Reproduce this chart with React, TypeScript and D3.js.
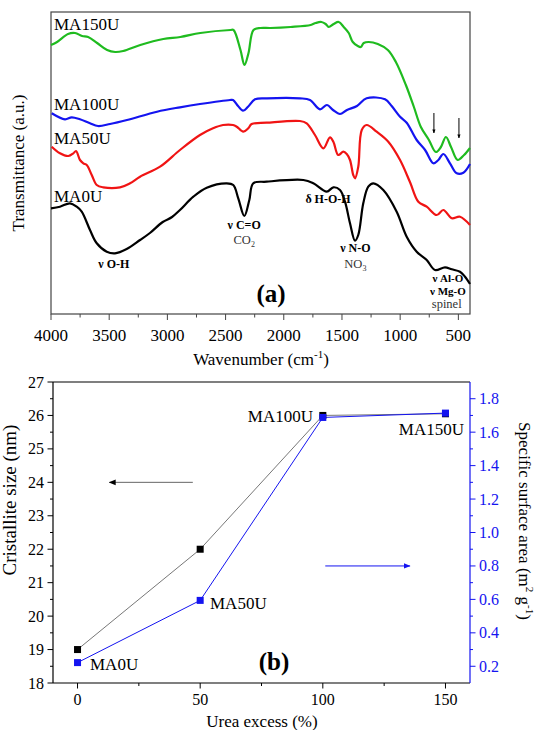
import React from "react";
import * as d3 from "d3";

// ---------- Panel (a): FTIR spectra (wavenumber cm-1, transmittance a.u.) ----------
const ma150uWn = [4000, 3948, 3854, 3793, 3733, 3681, 3604, 3518, 3449, 3380, 3233, 3035, 2889, 2717, 2458, 2432, 2372, 2338, 2303, 2260, 2200, 2114, 1941, 1769, 1726, 1677, 1640, 1614, 1571, 1528, 1485, 1442, 1407, 1364, 1339, 1313, 1270, 1192, 1106, 1037, 951, 882, 822, 753, 693, 650, 607, 563, 506, 451, 400];
const ma150uT = [269, 272, 280, 281, 278, 277, 271, 264, 262, 263, 269, 275, 277, 281, 284, 284, 264, 249, 261, 284, 286, 286, 287, 289, 291, 292, 290, 287, 290, 292, 287, 281, 272, 268, 267, 271, 272, 270, 264, 252, 229, 207, 187, 174, 162, 167, 177, 167, 154, 159, 166];

const ma100uWn = [3994, 3880, 3822, 3751, 3665, 3596, 3493, 3347, 3089, 2892, 2720, 2462, 2436, 2393, 2350, 2307, 2247, 2144, 1861, 1775, 1689, 1629, 1577, 1517, 1457, 1371, 1288, 1130, 1073, 1001, 944, 858, 786, 715, 672, 629, 572, 514, 457, 400];
const ma100uT = [200.7, 194.7, 196.7, 194.7, 190.7, 188, 190, 194, 202.3, 206.7, 210, 214, 214, 208, 203.3, 207.3, 214.7, 215.7, 215.7, 214, 204.7, 209, 204, 200, 204, 208, 215.7, 214.7, 208, 197.3, 191.3, 174, 164, 150.7, 154, 160, 150.7, 140.7, 141.3, 150];

const ma50uWn = [3994, 3923, 3851, 3808, 3785, 3751, 3722, 3693, 3650, 3607, 3551, 3407, 3321, 3235, 3063, 2892, 2720, 2608, 2522, 2436, 2404, 2348, 2305, 2276, 2147, 1861, 1803, 1732, 1660, 1603, 1574, 1532, 1488, 1459, 1431, 1403, 1388, 1360, 1330, 1288, 1202, 1102, 1001, 916, 844, 772, 686, 629, 557, 486, 400];
const ma50uT = [167.3, 160.7, 158, 160.7, 163, 154, 150.7, 149, 139, 129, 126.7, 126.7, 130.7, 137.3, 147.3, 164, 179, 185.7, 189, 189, 187.3, 182.3, 185.7, 190, 191.3, 193, 190.7, 179, 165.7, 176.7, 172.3, 159, 162.3, 160, 154, 139, 135.7, 147.3, 184, 189, 182.3, 172.3, 154, 132, 112.3, 107.3, 99, 104, 95.7, 97.3, 89];

const ma0uWn = [4000, 3923, 3837, 3779, 3736, 3665, 3607, 3521, 3450, 3350, 3235, 3150, 3040, 2960, 2892, 2777, 2662, 2490, 2434, 2391, 2339, 2296, 2262, 2147, 1832, 1746, 1631, 1574, 1517, 1474, 1431, 1388, 1360, 1317, 1274, 1231, 1145, 1030, 944, 858, 772, 701, 615, 557, 486, 443, 400];
const ma0uT = [105.7, 107.3, 110.7, 107.3, 102.3, 84, 70.7, 62.3, 60.7, 65, 74, 81, 92, 97, 104, 117.3, 126.3, 130.7, 129, 115.7, 98, 114, 130.7, 132.3, 134, 130.7, 122.3, 126.7, 124, 112.3, 90.7, 73.3, 79, 110.7, 127.3, 130.7, 124, 102.3, 77.3, 62.3, 54, 44, 46.7, 44.7, 42.3, 37.3, 30];

const wnTicks = [4000, 3500, 3000, 2500, 2000, 1500, 1000, 500];
const wnMinor = [3750, 3250, 2750, 2250, 1750, 1250, 750];

// ---------- Panel (b): crystallite size & specific surface area ----------
const ureaExcess = [0, 50, 100, 150];
const crystalliteSize = [19, 22, 26, 26.05];
const surfaceArea = [0.222, 0.594, 1.688, 1.714];
const sampleNames = ["MA0U", "MA50U", "MA100U", "MA150U"];
const ureaTicks = [0, 50, 100, 150];
const ureaMinor = [25, 75, 125];
const sizeTicks = [18, 19, 20, 21, 22, 23, 24, 25, 26, 27];
const areaTicks = [0.2, 0.4, 0.6, 0.8, 1.0, 1.2, 1.4, 1.6, 1.8];

const SERIF = "'Liberation Serif', 'Times New Roman', serif";
const GREEN = "#1fbb1f";
const BLUE = "#1414f0";
const RED = "#f01414";

export default function App() {
  // panel a scales
  const xA = d3.scaleLinear().domain([4000, 400]).range([51, 470]);
  const yA = d3.scaleLinear().domain([0, 302]).range([314, 12]);
  const line = d3
    .line<[number, number]>()
    .x((d) => xA(d[0]))
    .y((d) => yA(d[1]))
    .curve(d3.curveCatmullRom.alpha(0.5));
  const series = [
    { wn: ma150uWn, t: ma150uT, c: GREEN },
    { wn: ma100uWn, t: ma100uT, c: BLUE },
    { wn: ma50uWn, t: ma50uT, c: RED },
    { wn: ma0uWn, t: ma0uT, c: "#000" },
  ];

  // panel b scales
  const xB = d3.scaleLinear().domain([-10, 160]).range([53, 470]);
  const yL = d3.scaleLinear().domain([18, 27]).range([683, 382]);
  const yR = d3.scaleLinear().domain([0.1, 1.9]).range([683, 382]);
  const sizeMinor = d3.range(18.5, 27, 1);
  const areaMinor = d3.range(0.3, 1.85, 0.2);
  const lineSize = d3
    .line<number>()
    .x((_, i) => xB(ureaExcess[i]))
    .y((d) => yL(d));
  const lineArea = d3
    .line<number>()
    .x((_, i) => xB(ureaExcess[i]))
    .y((d) => yR(d));

  const ann = { fontFamily: SERIF, fontWeight: 700, fontSize: 12 } as const;
  const annSm = { fontFamily: SERIF, fontWeight: 700, fontSize: 11 } as const;
  const sub = { fontFamily: SERIF, fontSize: 12.5, fill: "#333" } as const;

  return (
    <svg
      width={537}
      height={730}
      style={{ position: "absolute", left: 0, top: 0, background: "#fff" }}
    >
      <defs>
        <marker id="ahK" viewBox="0 0 10 10" refX="9" refY="5" markerWidth="7" markerHeight="7" orient="auto">
          <path d="M0,1 L10,5 L0,9 z" fill="#000" />
        </marker>
        <marker id="ahB" viewBox="0 0 10 10" refX="9" refY="5" markerWidth="7" markerHeight="7" orient="auto">
          <path d="M0,1 L10,5 L0,9 z" fill={BLUE} />
        </marker>
        <marker id="ahS" viewBox="0 0 10 10" refX="9" refY="5" markerWidth="4" markerHeight="7" orient="auto">
          <path d="M0,1 L10,5 L0,9 z" fill="#000" />
        </marker>
      </defs>

      {/* ---------------- Panel (a) ---------------- */}
      <rect x={51} y={12} width={419} height={302} fill="none" stroke="#444" strokeWidth={1.2} />
      {series.map((s, k) => (
        <path
          key={k}
          d={line(s.wn.map((w, i) => [w, s.t[i]] as [number, number])) || ""}
          fill="none"
          stroke={s.c}
          strokeWidth={2.2}
          strokeLinejoin="round"
        />
      ))}
      {wnTicks.map((t) => (
        <g key={t}>
          <line x1={xA(t)} x2={xA(t)} y1={314} y2={320} stroke="#444" />
          <text x={xA(t)} y={341} textAnchor="middle" fontFamily={SERIF} fontSize={17}>
            {t}
          </text>
        </g>
      ))}
      {wnMinor.map((t) => (
        <line key={t} x1={xA(t)} x2={xA(t)} y1={314} y2={317.5} stroke="#444" />
      ))}
      <text x={261} y={365} textAnchor="middle" fontFamily={SERIF} fontSize={17}>
        Wavenumber (cm
        <tspan dy={-7} fontSize={11}>-1</tspan>
        <tspan dy={7}>)</tspan>
      </text>
      <text
        transform="translate(24,163) rotate(-90)"
        textAnchor="middle"
        fontFamily={SERIF}
        fontSize={17}
      >
        Transmittance (a.u.)
      </text>

      <text x={54} y={30} fontFamily={SERIF} fontSize={17}>MA150U</text>
      <text x={54} y={110} fontFamily={SERIF} fontSize={17}>MA100U</text>
      <text x={54} y={144} fontFamily={SERIF} fontSize={17}>MA50U</text>
      <text x={54} y={202} fontFamily={SERIF} fontSize={17}>MA0U</text>

      <text x={xA(3460)} y={268} textAnchor="middle" {...ann}>ν O-H</text>
      <text x={xA(2340)} y={229} textAnchor="middle" {...ann}>ν C=O</text>
      <text x={xA(2340)} y={244} textAnchor="middle" {...sub}>
        CO<tspan dy={3} fontSize={8}>2</tspan>
      </text>
      <text x={xA(1620)} y={203} textAnchor="middle" {...ann}>δ H-O-H</text>
      <text x={xA(1385)} y={252} textAnchor="middle" {...ann}>ν N-O</text>
      <text x={xA(1385)} y={268} textAnchor="middle" {...sub}>
        NO<tspan dy={3} fontSize={8}>3</tspan>
      </text>
      <text x={xA(590)} y={282} textAnchor="middle" {...annSm}>ν Al-O</text>
      <text x={xA(590)} y={294.5} textAnchor="middle" {...annSm}>ν Mg-O</text>
      <text x={xA(600)} y={308} textAnchor="middle" {...sub}>spinel</text>

      <line x1={xA(710)} x2={xA(710)} y1={yA(201)} y2={yA(181)} stroke="#000" strokeWidth={1} markerEnd="url(#ahS)" />
      <line x1={xA(495)} x2={xA(495)} y1={yA(196)} y2={yA(176)} stroke="#000" strokeWidth={1} markerEnd="url(#ahS)" />

      <text x={271} y={302} textAnchor="middle" fontFamily={SERIF} fontWeight={700} fontSize={25}>(a)</text>

      {/* ---------------- Panel (b) ---------------- */}
      <line x1={53} x2={470} y1={382} y2={382} stroke="#000" strokeWidth={1.2} />
      <line x1={53} x2={470} y1={683} y2={683} stroke="#000" strokeWidth={1.2} />
      <line x1={53} x2={53} y1={382} y2={683} stroke="#000" strokeWidth={1.2} />
      <line x1={470} x2={470} y1={382} y2={683} stroke={BLUE} strokeWidth={1.2} />

      {sizeTicks.map((t) => (
        <g key={t}>
          <line x1={47.5} x2={53} y1={yL(t)} y2={yL(t)} stroke="#000" />
          <text x={44} y={yL(t) + 5.5} textAnchor="end" fontFamily={SERIF} fontSize={16}>{t}</text>
        </g>
      ))}
      {sizeMinor.map((t) => (
        <line key={t} x1={50} x2={53} y1={yL(t)} y2={yL(t)} stroke="#000" />
      ))}
      {areaTicks.map((t) => (
        <g key={t}>
          <line x1={470} x2={475.5} y1={yR(t)} y2={yR(t)} stroke={BLUE} />
          <text x={479} y={yR(t) + 5.5} fontFamily={SERIF} fontSize={16} fill={BLUE}>{t.toFixed(1)}</text>
        </g>
      ))}
      {areaMinor.map((t) => (
        <line key={t} x1={470} x2={473} y1={yR(t)} y2={yR(t)} stroke={BLUE} />
      ))}
      {ureaTicks.map((t) => (
        <g key={t}>
          <line x1={xB(t)} x2={xB(t)} y1={683} y2={688.5} stroke="#000" />
          <text x={xB(t)} y={705} textAnchor="middle" fontFamily={SERIF} fontSize={16}>{t}</text>
        </g>
      ))}
      {ureaMinor.map((t) => (
        <line key={t} x1={xB(t)} x2={xB(t)} y1={683} y2={686} stroke="#000" />
      ))}

      <text x={262} y={727} textAnchor="middle" fontFamily={SERIF} fontSize={17}>Urea excess (%)</text>
      <text transform="translate(16,500) rotate(-90)" textAnchor="middle" fontFamily={SERIF} fontSize={19}>
        Cristallite size (nm)
      </text>
      <text transform="translate(519,521) rotate(90)" textAnchor="middle" fontFamily={SERIF} fontSize={17}>
        Specific surface area (m
        <tspan dy={-7} fontSize={11}>2</tspan>
        <tspan dy={7}> g</tspan>
        <tspan dy={-7} fontSize={11}>-1</tspan>
        <tspan dy={7}>)</tspan>
      </text>

      <path d={lineSize(crystalliteSize) || ""} fill="none" stroke="#777" strokeWidth={1} />
      <path d={lineArea(surfaceArea) || ""} fill="none" stroke={BLUE} strokeWidth={1} />
      {crystalliteSize.map((v, i) => (
        <rect key={"k" + i} x={xB(ureaExcess[i]) - 3.5} y={yL(v) - 3.5} width={7} height={7} fill="#000" />
      ))}
      {surfaceArea.map((v, i) => (
        <rect key={"b" + i} x={xB(ureaExcess[i]) - 3.5} y={yR(v) - 3.5} width={7} height={7} fill={BLUE} />
      ))}

      <text x={90} y={670} fontFamily={SERIF} fontSize={17}>{sampleNames[0]}</text>
      <text x={210} y={609} fontFamily={SERIF} fontSize={17}>{sampleNames[1]}</text>
      <text x={313} y={422} textAnchor="end" fontFamily={SERIF} fontSize={17}>{sampleNames[2]}</text>
      <text x={464} y={435} textAnchor="end" fontFamily={SERIF} fontSize={17}>{sampleNames[3]}</text>

      <line x1={xB(47)} x2={xB(13)} y1={yL(24)} y2={yL(24)} stroke="#666" strokeWidth={1} markerEnd="url(#ahK)" />
      <line x1={xB(101)} x2={xB(135.5)} y1={yR(0.8)} y2={yR(0.8)} stroke={BLUE} strokeWidth={1} markerEnd="url(#ahB)" />

      <text x={274} y={670} textAnchor="middle" fontFamily={SERIF} fontWeight={700} fontSize={25}>(b)</text>
    </svg>
  );
}
